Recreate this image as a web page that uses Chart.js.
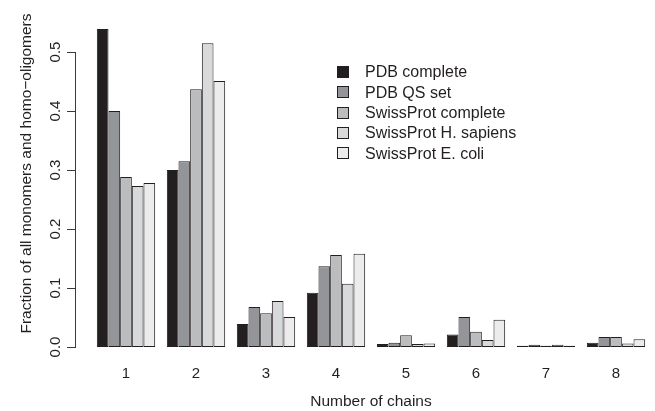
<!DOCTYPE html>
<html>
<head>
<meta charset="utf-8">
<script src="https://cdn.jsdelivr.net/npm/chart.js@4/dist/chart.umd.min.js"></script>
<style>
  body { margin: 0; background: #fff; }
  #wrap { position: relative; width: 655px; height: 411px; }
  #yaxis { position: absolute; left: 0; top: 0; width: 0; height: 0; pointer-events: none; }
  #yaxis div { position: absolute; background: #3a3a3a; }
</style>
</head>
<body>
<div id="wrap"><canvas id="chart" width="655" height="411"></canvas><div id="yaxis"></div></div>
<script>
'use strict';

// number of chains per complex
let chainCounts = ['1', '2', '3', '4', '5', '6', '7', '8'];

// fraction of all monomers and homo-oligomers, one array per data set
let pdbComplete = [0.539, 0.300, 0.039, 0.092, 0.005, 0.021, 0.002, 0.007];
let pdbQsSet = [0.400, 0.315, 0.068, 0.137, 0.007, 0.051, 0.004, 0.017];
let swissComplete = [0.288, 0.437, 0.057, 0.156, 0.020, 0.026, 0.002, 0.017];
let swissHuman = [0.273, 0.515, 0.078, 0.107, 0.005, 0.012, 0.004, 0.006];
let swissEcoli = [0.278, 0.451, 0.051, 0.158, 0.006, 0.046, 0.002, 0.013];

let seriesNames = ['PDB complete', 'PDB QS set', 'SwissProt complete', 'SwissProt H. sapiens', 'SwissProt E. coli'];
let yTicks = [0.0, 0.1, 0.2, 0.3, 0.4, 0.5];

let fills = ['#231f20', '#949599', '#bbbcbe', '#d8d9db', '#ececec'];
let ink = '#231f20';
let fontFamily = '"Liberation Sans", Arial, Helvetica, sans-serif';

let canvasElem = document.getElementById('chart');
let axisLayer = document.getElementById('yaxis');

// thin rectangle in the overlay, used for the R style y axis line and ticks
function axisPiece(left, top, width, height) {
    let d = document.createElement('div');
    d.style.left = left + 'px';
    d.style.top = top + 'px';
    d.style.width = width + 'px';
    d.style.height = height + 'px';
    axisLayer.appendChild(d);
}

// R style y axis (rotated labels, line only from first to last tick, set
// off to the left of the bars) and the legend in the upper middle
let rAxisAndLegend = {
    id: 'rAxisAndLegend',
    afterDraw(chart) {
        let ctx = chart.ctx;
        let y = chart.scales.y;

        ctx.save();
        ctx.fillStyle = ink;
        ctx.font = '15px ' + fontFamily;
        ctx.textAlign = 'center';
        ctx.textBaseline = 'middle';
        for (let i = 0; i < yTicks.length; i++) {
            let ty = y.getPixelForValue(yTicks[i]);
            ctx.save();
            ctx.translate(56, ty);
            ctx.rotate(-Math.PI / 2);
            ctx.fillText(yTicks[i].toFixed(1), 0, 0);
            ctx.restore();
        }

        // legend
        ctx.font = '16px ' + fontFamily;
        ctx.textAlign = 'left';
        ctx.lineWidth = 1;
        for (let i = 0; i < seriesNames.length; i++) {
            let cy = 72 + i * 20.3;
            ctx.fillStyle = fills[i];
            ctx.fillRect(337, Math.round(cy - 6), 12, 12);
            ctx.strokeStyle = ink;
            ctx.strokeRect(337.5, Math.round(cy - 6) + 0.5, 11, 11);
            ctx.fillStyle = ink;
            ctx.fillText(seriesNames[i], 365, cy + 1);
        }
        ctx.restore();

        // axis line and tick marks, placed from the y scale
        let axisX = Math.round(y.right) - 16;
        let y0 = Math.round(y.getPixelForValue(yTicks[0]));
        let y1 = Math.round(y.getPixelForValue(yTicks[yTicks.length - 1]));
        ctx.save();
        ctx.fillStyle = '#3a3a3a';
        ctx.fillRect(axisX, y1, 1, y0 - y1 + 1);
        axisLayer.innerHTML = '';
        axisPiece(axisX, y1, 1, y0 - y1 + 1);
        for (let i = 0; i < yTicks.length; i++) {
            let ty = Math.round(y.getPixelForValue(yTicks[i]));
            ctx.fillRect(axisX - 8, ty, 8, 1);
            axisPiece(axisX - 8, ty, 8, 1);
        }
        ctx.restore();
    }
};

function renderChart() {
    let seriesData = [pdbComplete, pdbQsSet, swissComplete, swissHuman, swissEcoli];
    let datasets = [];
    for (let i = 0; i < seriesData.length; i++) {
        datasets.push({
            label: seriesNames[i],
            data: seriesData[i],
            backgroundColor: fills[i],
            borderColor: ink,
            borderWidth: 1,
            borderSkipped: false,
            categoryPercentage: 5 / 6,
            barPercentage: 1.0
        });
    }

    let chartObj = {
        type: 'bar',
        data: {
            labels: chainCounts,
            datasets: datasets
        },
        options: {
            responsive: false,
            animation: false,
            layout: {
                padding: { left: 0, right: 4, top: 0, bottom: 0 }
            },
            plugins: {
                legend: { display: false },
                tooltip: { enabled: false }
            },
            scales: {
                x: {
                    grid: { display: false, drawTicks: false },
                    border: { display: false },
                    ticks: {
                        color: ink,
                        padding: 18,
                        font: { family: fontFamily, size: 15 }
                    },
                    title: {
                        display: true,
                        text: 'Number of chains',
                        color: ink,
                        padding: { top: 0, bottom: 0 },
                        font: { family: fontFamily, size: 15.5 }
                    },
                    afterFit(scale) { scale.height = 64; }
                },
                y: {
                    min: 0,
                    max: 347 / 590,
                    afterBuildTicks(scale) {
                        scale.ticks = yTicks.map(v => ({ value: v }));
                    },
                    grid: { display: false, drawTicks: false },
                    border: { display: false },
                    ticks: { display: false },
                    title: {
                        display: true,
                        text: 'Fraction of all monomers and homo\u2212oligomers',
                        color: ink,
                        padding: { top: 17, bottom: 0 },
                        font: { family: fontFamily, size: 15.5 }
                    },
                    afterFit(scale) { scale.width = 91; }
                }
            }
        },
        plugins: [rAxisAndLegend]
    };
    new Chart(canvasElem, chartObj);
}

renderChart();
</script>
</body>
</html>
